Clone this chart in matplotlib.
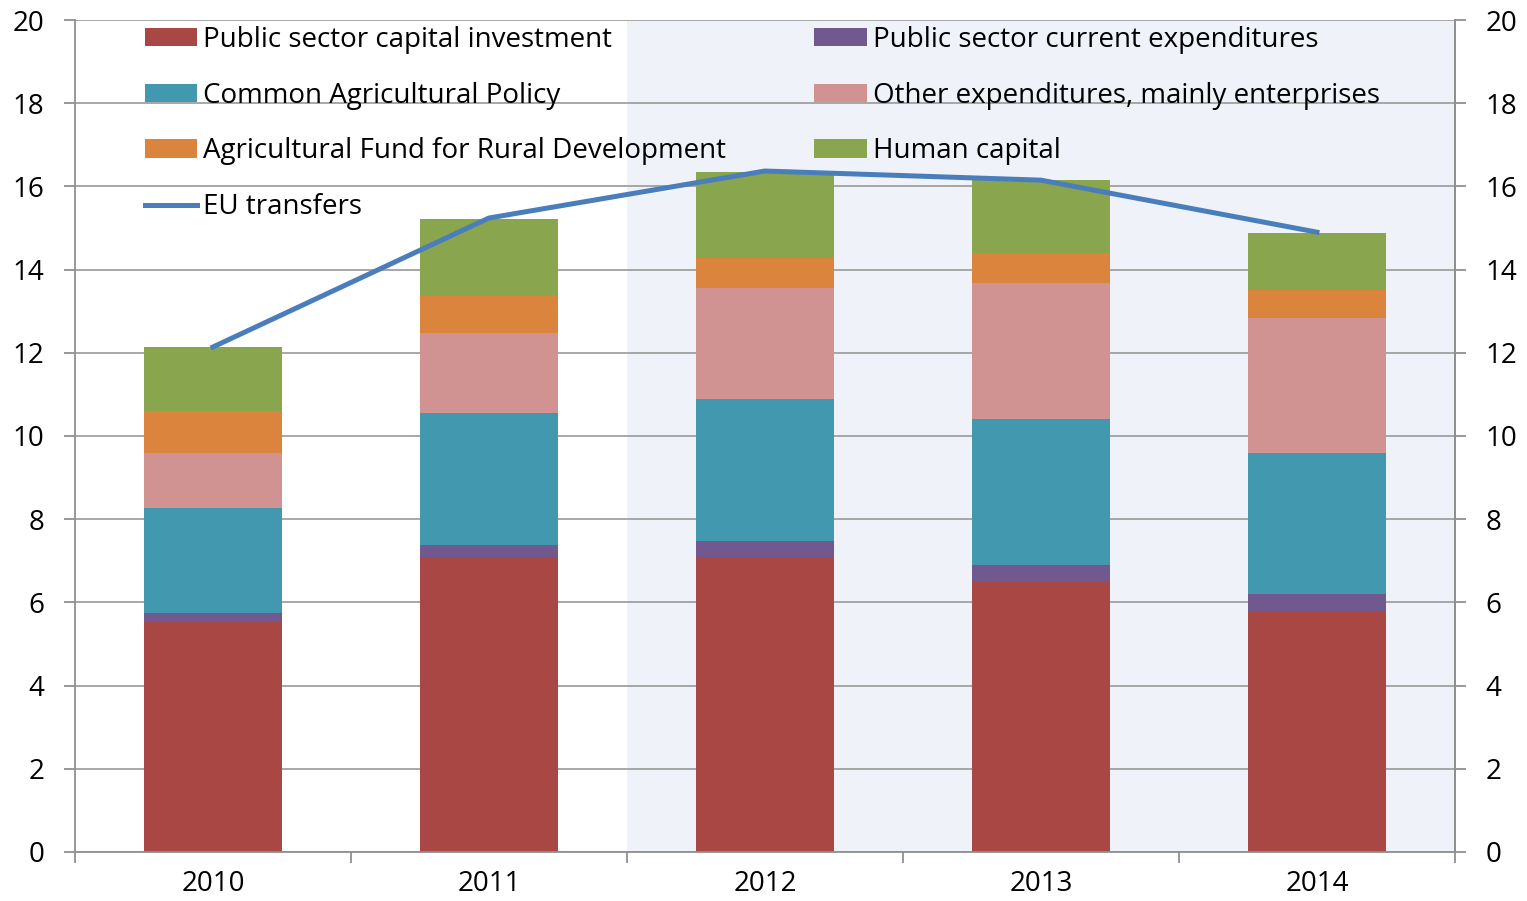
import numpy as np
import matplotlib.pyplot as plt

years = ['2010', '2011', '2012', '2013', '2014']
capital_inv = [5.53, 7.09, 7.09, 6.49, 5.79]
current_exp = [0.22, 0.29, 0.38, 0.41, 0.41]
cap_policy = [2.52, 3.17, 3.41, 3.51, 3.39]
other_exp = [1.32, 1.93, 2.67, 3.27, 3.25]
rural_fund = [1.01, 0.89, 0.74, 0.72, 0.67]
human_cap = [1.54, 1.85, 2.05, 1.75, 1.37]
eu_transfers = [12.14, 15.24, 16.37, 16.15, 14.90]

series = [
    ('Public sector capital investment', capital_inv, '#A94744'),
    ('Public sector current expenditures', current_exp, '#71588F'),
    ('Common Agricultural Policy', cap_policy, '#4198AF'),
    ('Other expenditures, mainly enterprises', other_exp, '#D09392'),
    ('Agricultural Fund for Rural Development', rural_fund, '#DB843D'),
    ('Human capital', human_cap, '#89A54E'),
]

plt.rcParams['font.family'] = ['Open Sans', 'DejaVu Sans']
fs = 20

fig = plt.figure(figsize=(15.27, 9.01), dpi=100)
ax = fig.add_axes([0.0491, 0.0544, 0.9037, 0.9234])
x = np.arange(len(years))

# shaded forecast area
ax.axvspan(1.5, 4.5, color='#EFF3F9', zorder=0, lw=0)

bars = {}
bottom = np.zeros(len(years))
for name, vals, col in series:
    bars[name] = ax.bar(x, vals, 0.5, bottom=bottom, color=col, zorder=2, label=name)
    bottom += np.array(vals)

line, = ax.plot(x, eu_transfers, color='#4A7EBB', lw=3.6, zorder=3, label='EU transfers')

ax.set_xlim(-0.5, 4.5)
ax.set_ylim(0, 20)
ax.set_yticks(np.arange(0, 21, 2))
ax.yaxis.grid(True, color='#A0A0A0', lw=1.3, zorder=1)
ax.set_axisbelow(True)

ax.set_xticks(x)
ax.set_xticklabels(years, fontsize=fs)
ax.set_xticks(np.arange(-0.5, 4.6, 1), minor=True)
ax.tick_params(axis='x', which='major', length=0, pad=13)
ax.tick_params(axis='x', which='minor', length=8, width=1.3, color='#909090', direction='out')
ax.tick_params(axis='y', length=8, width=1.3, color='#909090', labelsize=fs, pad=14)

ax.spines['top'].set_visible(False)
for s in ['left', 'right', 'bottom']:
    ax.spines[s].set_color('#909090')
    ax.spines[s].set_linewidth(1.3)

ax2 = ax.twinx()
ax2.set_ylim(0, 20)
ax2.set_yticks(np.arange(0, 21, 2))
ax2.tick_params(axis='y', length=8, width=1.3, color='#909090', labelsize=fs, pad=14)
for s in ['top', 'left', 'bottom']:
    ax2.spines[s].set_visible(False)
ax2.spines['right'].set_color('#909090')
ax2.spines['right'].set_linewidth(1.3)

order = [series[0][0], series[2][0], series[4][0], None,
         series[1][0], series[3][0], series[5][0]]
handles = [bars[n] if n else line for n in order]
labels = [n if n else 'EU transfers' for n in order]
ax.legend(handles, labels, ncol=2, frameon=False, fontsize=fs,
          loc='upper left', bbox_to_anchor=(0.0324, 1.023),
          handlelength=1.9, handleheight=0.65, handletextpad=0.2,
          labelspacing=1.0, columnspacing=3.18)

fig.savefig('out.png', dpi=100)
